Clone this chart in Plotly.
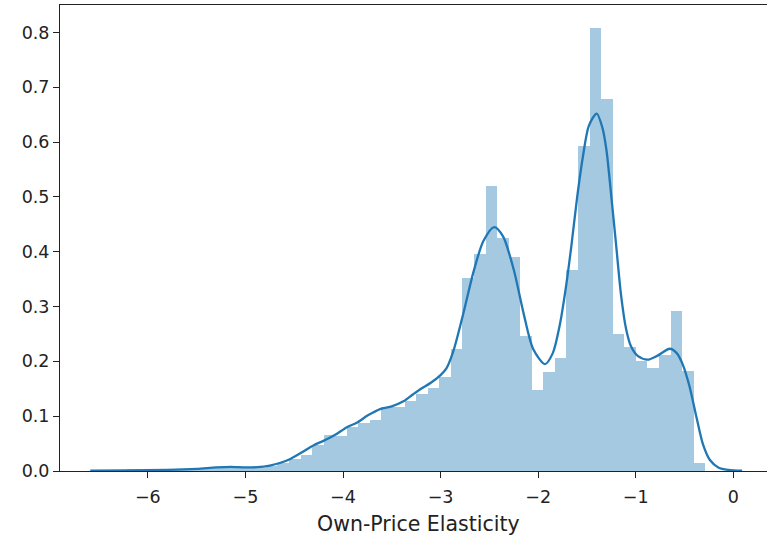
import numpy as np
import plotly.graph_objects as go

# Histogram of own-price elasticities (density-normalised), 50 equal bins
bin_start = -6.213
bin_width = 0.1185
density = [
    0.002, 0.000, 0.002, 0.000, 0.002, 0.003, 0.004, 0.006, 0.007, 0.008,
    0.007, 0.006, 0.009, 0.014, 0.021,
    0.030, 0.048, 0.066, 0.063, 0.081, 0.088, 0.093, 0.117, 0.117, 0.128,
    0.140, 0.152, 0.172, 0.223, 0.352, 0.395, 0.519, 0.425, 0.390, 0.247,
    0.148, 0.180, 0.206, 0.367, 0.592, 0.808, 0.679, 0.250, 0.226, 0.200,
    0.188, 0.212, 0.291, 0.183, 0.015,
]

# Kernel density estimate
kde_x = [
    -6.59, -6.20, -5.80, -5.50, -5.30, -5.15, -5.00, -4.88, -4.75, -4.64,
    -4.54, -4.42, -4.30, -4.20, -4.08, -3.96, -3.86, -3.74, -3.62, -3.50,
    -3.38, -3.28, -3.20, -3.10, -3.00, -2.94, -2.87, -2.77, -2.66, -2.56,
    -2.45, -2.36, -2.25, -2.15, -2.05, -1.93, -1.85, -1.78, -1.72, -1.66,
    -1.60, -1.54, -1.48, -1.40, -1.34, -1.30, -1.25, -1.20, -1.15, -1.10,
    -1.05, -0.98, -0.88, -0.78, -0.65, -0.58, -0.52, -0.45, -0.38, -0.31,
    -0.24, -0.15, -0.05, 0.09,
]
kde_y = [
    0.0005, 0.001, 0.002, 0.004, 0.0065, 0.0075, 0.0065, 0.007, 0.010, 0.015,
    0.022, 0.034, 0.047, 0.055, 0.066, 0.080, 0.088, 0.102, 0.113, 0.118,
    0.127, 0.140, 0.150, 0.161, 0.175, 0.187, 0.218, 0.285, 0.365, 0.420,
    0.445, 0.428, 0.367, 0.288, 0.222, 0.195, 0.215, 0.265, 0.330, 0.410,
    0.500, 0.575, 0.630, 0.652, 0.625, 0.585, 0.500, 0.410, 0.320, 0.260,
    0.228, 0.210, 0.203, 0.210, 0.223, 0.215, 0.195, 0.155, 0.100, 0.048,
    0.020, 0.006, 0.002, 0.0005,
]

x_ticks = [-6, -5, -4, -3, -2, -1, 0]
x_tick_text = ["\u22126", "\u22125", "\u22124", "\u22123", "\u22122", "\u22121", "0"]
y_ticks = [0.0, 0.1, 0.2, 0.3, 0.4, 0.5, 0.6, 0.7, 0.8]
x_label = "Own-Price Elasticity"

centers = bin_start + bin_width * (np.arange(len(density)) + 0.5)

fig = go.Figure()
fig.add_trace(go.Bar(
    x=centers, y=density, width=bin_width,
    marker=dict(color="#1f77b4", opacity=0.4, line=dict(width=0)),
    showlegend=False, hoverinfo="skip",
))
fig.add_trace(go.Scatter(
    x=kde_x, y=kde_y, mode="lines",
    line=dict(color="#1f77b4", width=2.3, shape="spline", smoothing=0.8),
    showlegend=False,
))

tick_font = dict(family="DejaVu Sans", size=17.5, color="#222222")
label_font = dict(family="DejaVu Sans", size=20.5, color="#222222")
axis_line = dict(showline=True, linecolor="#222222", linewidth=1,
                 ticks="outside", ticklen=6, tickwidth=1, tickcolor="#222222",
                 showgrid=False, zeroline=False, tickfont=tick_font)

fig.update_layout(
    width=767, height=541,
    margin=dict(l=60, r=0, t=5, b=70),
    plot_bgcolor="white", paper_bgcolor="white",
    bargap=0, font=tick_font,
    xaxis=dict(range=[-6.90, 0.345], tickvals=x_ticks, ticktext=x_tick_text,
               mirror=True, ticklabelstandoff=4, **axis_line),
    yaxis=dict(range=[0, 0.85], tickvals=y_ticks, tickformat=".1f",
               mirror=False, **axis_line),
    annotations=[dict(text=x_label, x=-3.222, xref="x", y=0, yref="paper",
                      yshift=-39, yanchor="top", showarrow=False,
                      font=label_font)],
)

fig.write_html("out.html")
